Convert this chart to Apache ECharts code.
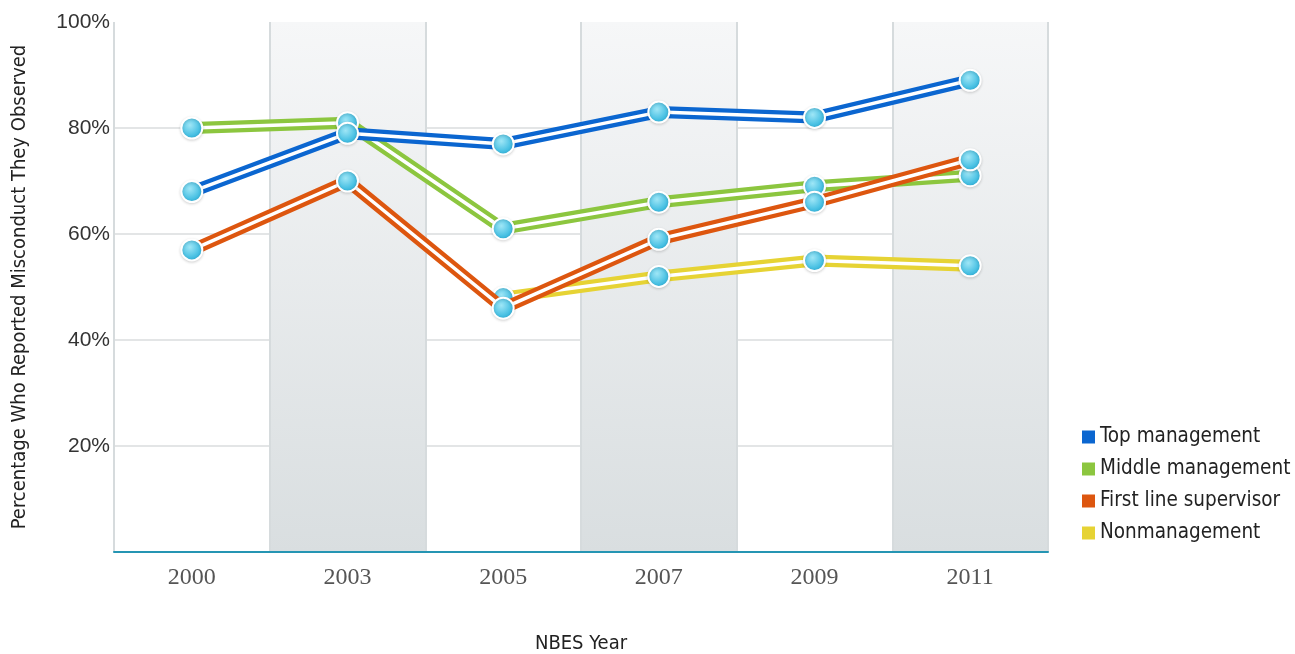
<!DOCTYPE html>
<html>
<head>
<meta charset="utf-8">
<script src="https://cdn.jsdelivr.net/npm/echarts@6/dist/echarts.min.js"></script>
<style>
  html, body { margin: 0; padding: 0; background: #ffffff; }
  #chart { width: 1295px; height: 654px; }
</style>
</head>
<body>
<div id="chart"></div>
<script>
// NBES survey years
const years = ['2000', '2003', '2005', '2007', '2009', '2011'];

// Percentage who reported misconduct they observed, by management level
const topManagement = [68, 79, 77, 83, 82, 89];
const middleManagement = [80, 81, 61, 66, 69, 71];
const firstLineSupervisor = [57, 70, 46, 59, 66, 74];
const nonmanagement = [null, null, 48, 52, 55, 54];

const yTicks = [0, 20, 40, 60, 80, 100];

const condensed = "'DejaVu Sans Condensed', 'Liberation Sans Narrow', sans-serif";

const groups = [
  { name: 'Middle management', data: middleManagement, color: '#8cc63f' },
  { name: 'Top management', data: topManagement, color: '#0b66d0' },
  { name: 'Nonmanagement', data: nonmanagement, color: '#e6d334' },
  { name: 'First line supervisor', data: firstLineSupervisor, color: '#dd560f' }
];

const markerFill = new echarts.graphic.RadialGradient(0.42, 0.38, 0.7, [
  { offset: 0, color: '#9fe6f6' },
  { offset: 0.6, color: '#4cc2e4' },
  { offset: 1, color: '#22a6d1' }
]);

const bandFill = new echarts.graphic.LinearGradient(0, 0, 0, 1, [
  { offset: 0, color: '#f6f7f8' },
  { offset: 1, color: '#d9dee0' }
]);

const series = [];
groups.forEach(function (g, i) {
  // outer coloured stroke
  series.push({
    name: g.name,
    type: 'line',
    data: g.data,
    z: 10 + i * 3,
    showSymbol: false,
    symbol: 'rect',
    itemStyle: { color: g.color },
    lineStyle: { color: g.color, width: 12, join: 'round' },
    emphasis: { disabled: true },
    silent: true
  });
  // white inner stroke with the round markers
  series.push({
    name: g.name + ' ',
    type: 'line',
    data: g.data,
    z: 11 + i * 3,
    symbol: 'circle',
    symbolSize: 21,
    itemStyle: {
      color: markerFill,
      borderColor: '#ffffff',
      borderWidth: 2,
      shadowColor: 'rgba(0,0,0,0.15)',
      shadowBlur: 3,
      shadowOffsetY: 1
    },
    lineStyle: { color: '#ffffff', width: 3.5, join: 'round' },
    emphasis: { disabled: true },
    silent: true
  });
});

const chart = echarts.init(document.getElementById('chart'));
chart.setOption({
  animation: false,
  backgroundColor: '#ffffff',
  grid: { left: 114, right: 247, top: 22, bottom: 102, containLabel: false, outerBoundsMode: 'none' },
  legend: {
    orient: 'vertical',
    left: 1077,
    top: 421,
    data: ['Top management', 'Middle management', 'First line supervisor', 'Nonmanagement'],
    icon: 'rect',
    itemWidth: 13,
    itemHeight: 13,
    itemGap: 10,
    textStyle: { fontFamily: condensed, fontSize: 20.5, color: '#222', lineHeight: 22 },
    selectedMode: false
  },
  xAxis: {
    type: 'category',
    data: years,
    boundaryGap: true,
    name: 'NBES Year',
    nameLocation: 'middle',
    nameGap: 82,
    nameTextStyle: { fontFamily: condensed, fontSize: 20, color: '#222' },
    axisLine: { show: true, lineStyle: { color: '#2595b3', width: 2 } },
    axisTick: { show: false },
    axisLabel: { fontFamily: 'Liberation Serif, Times New Roman, serif', fontSize: 24, color: '#555', margin: 14 },
    splitLine: { show: true, lineStyle: { color: '#d6dbdd', width: 2 } },
    splitArea: { show: true, areaStyle: { color: ['rgba(255,255,255,0)', bandFill] } }
  },
  yAxis: {
    type: 'value',
    min: yTicks[0],
    max: yTicks[yTicks.length - 1],
    interval: 20,
    name: 'Percentage Who Reported Misconduct They Observed',
    nameLocation: 'middle',
    nameGap: 84,
    nameRotate: 90,
    nameTextStyle: { fontFamily: condensed, fontSize: 20, color: '#222' },
    axisLine: { show: false },
    axisTick: { show: false },
    axisLabel: {
      fontFamily: "'Liberation Sans', Arial, sans-serif",
      fontSize: 21,
      color: '#333',
      margin: 4,
      formatter: function (v) { return v === 0 ? '' : v + '%'; }
    },
    splitLine: {
      show: true,
      lineStyle: { color: ['rgba(0,0,0,0)', '#e3e5e6', '#e3e5e6', '#e3e5e6', '#e3e5e6', 'rgba(0,0,0,0)'], width: 2 }
    }
  },
  series: series
});
</script>
</body>
</html>
